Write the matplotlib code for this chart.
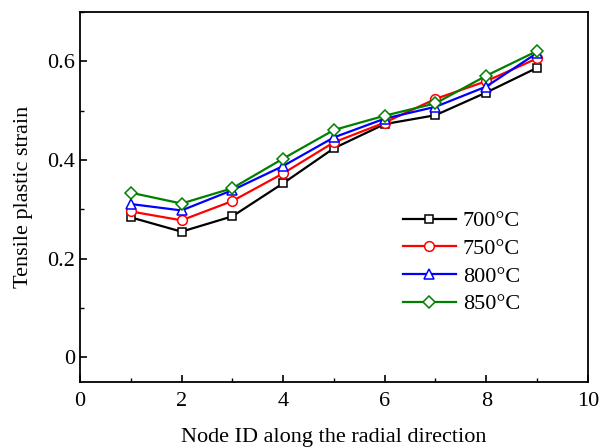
import matplotlib
matplotlib.use('Agg')
import matplotlib.pyplot as plt
from matplotlib.ticker import MultipleLocator

plt.rcParams['font.family'] = ['Liberation Serif', 'DejaVu Serif']

# Data
node_id = [1, 2, 3, 4, 5, 6, 7, 8, 9]
strain_700 = [0.284, 0.255, 0.286, 0.353, 0.424, 0.473, 0.491, 0.537, 0.587]
strain_750 = [0.296, 0.278, 0.317, 0.373, 0.436, 0.476, 0.524, 0.560, 0.606]
strain_800 = [0.311, 0.298, 0.339, 0.388, 0.446, 0.484, 0.508, 0.549, 0.617]
strain_850 = [0.334, 0.312, 0.343, 0.403, 0.461, 0.490, 0.515, 0.571, 0.621]
labels = ['700°C', '750°C', '800°C', '850°C']

fig = plt.figure(figsize=(6.01, 4.48), dpi=100)
ax = fig.add_axes([0.133, 0.147, 0.845, 0.826])

series = [strain_700, strain_750, strain_800, strain_850]
colors = ['black', 'red', 'blue', 'green']
markers = ['s', 'o', '^', 'D']
sizes = [6, 7, 7, 6]

for vals, c, m, ms, lab in zip(series, colors, markers, sizes, labels):
    ax.plot(node_id, vals, color=c, marker=m, markersize=ms, linewidth=1.6,
            markerfacecolor='white', markeredgecolor=c, markeredgewidth=1.1,
            label=lab)

ax.set_xlim(0, 10)
ax.set_ylim(-0.05, 0.7)
ax.xaxis.set_major_locator(MultipleLocator(2))
ax.xaxis.set_minor_locator(MultipleLocator(1))
ax.yaxis.set_major_locator(MultipleLocator(0.2))
ax.yaxis.set_minor_locator(MultipleLocator(0.1))
ax.yaxis.set_major_formatter(plt.FuncFormatter(lambda v, p: '0' if abs(v) < 1e-9 else f'{v:.1f}'))

ax.tick_params(which='major', direction='in', length=5, width=1.2, labelsize=16)
ax.tick_params(which='minor', direction='in', length=3, width=1.0)
ax.tick_params(axis='x', pad=7)
for s in ax.spines.values():
    s.set_linewidth(1.3)

ax.set_xlabel('Node ID along the radial direction', fontsize=16, labelpad=12)
ax.set_ylabel('Tensile plastic strain', fontsize=16, labelpad=10)

ax.legend(loc='upper left', bbox_to_anchor=(0.605, 0.505), frameon=False,
          fontsize=16, handlelength=2.4, handletextpad=0.3, labelspacing=0.32,
          borderpad=0.2)

fig.savefig('out.png', dpi=100)
